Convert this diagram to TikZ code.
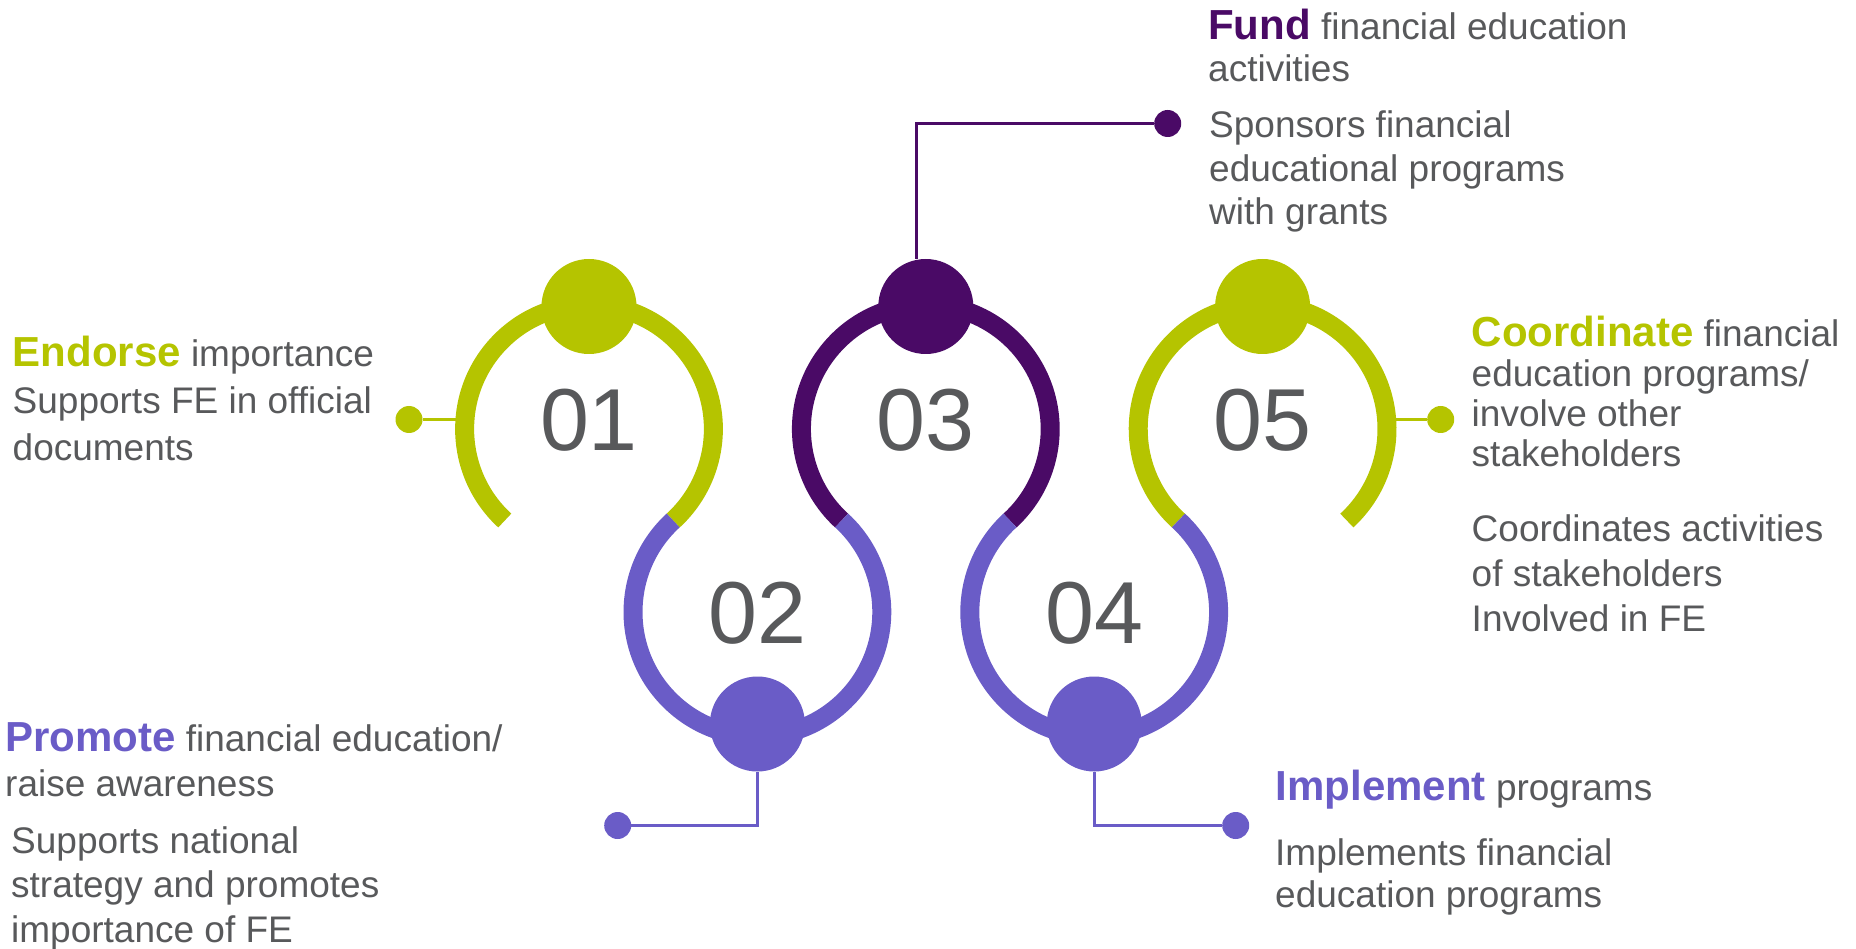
\documentclass[tikz,border=0pt]{standalone}
\usepackage{fontspec}
\setmainfont{Liberation Sans}
\definecolor{fegreen}{HTML}{B5C400}
\definecolor{felilac}{HTML}{6A5CC7}
\definecolor{feplum}{HTML}{4A0A66}
\definecolor{fegray}{HTML}{58595B}
\newcommand\headword[2]{{\fontsize{42}{44}\selectfont\bfseries\color{#1}#2}}
\begin{document}
\begin{tikzpicture}[x=1pt, y=1pt,
    ring/.style={line width=19pt},
    bigdot/.style={circle, inner sep=0pt, minimum size=95pt},
    smalldot/.style={circle, inner sep=0pt, minimum size=27pt},
    link/.style={line width=2.8pt},
    num/.style={text=fegray, font=\fontsize{88}{88}\selectfont, inner sep=0pt, anchor=base},
    blurb/.style={text=fegray, inner sep=0pt, anchor=base west, align=left}]
    \useasboundingbox (0,0) rectangle (1856,-949);
    % Los anillos se tocan de dos en dos y forman una cadena ondulada.
    \foreach \i/\col in {1/fegreen, 3/feplum, 5/fegreen}
        \draw[ring, \col] ({589+168.4*(\i-1)},-429) ++(227.38:124.4pt)
            arc[start angle=227.38, end angle=-47.38, radius=124.4pt];
    \foreach \i in {2,4}
        \draw[ring, felilac] ({589+168.4*(\i-1)},-612) ++(132.62:124.4pt)
            arc[start angle=132.62, end angle=407.38, radius=124.4pt];
    \foreach \i/\col in {1/fegreen, 3/feplum, 5/fegreen} {
        \node[bigdot, fill=\col] (d\i) at ({589+168.4*(\i-1)},-306.5) {};
        \node[num] (n\i) at ({589+168.4*(\i-1)},-450) {0\i};
    }
    \foreach \i in {2,4} {
        \node[bigdot, fill=felilac] (d\i) at ({589+168.4*(\i-1)},-724) {};
        \node[num] (n\i) at ({589+168.4*(\i-1)},-643) {0\i};
    }
    \node[smalldot, fill=fegreen] (s1) at (409,-419.5) {};
    \node[smalldot, fill=felilac] (s2) at (617.7,-825.5) {};
    \node[smalldot, fill=feplum] (s3) at (1167.7,-123.5) {};
    \node[smalldot, fill=felilac] (s4) at (1235.7,-825.5) {};
    \node[smalldot, fill=fegreen] (s5) at (1440.7,-419.5) {};
    \coordinate (r1) at (457,-419.5);
    \coordinate (r5) at (1394,-419.5);
    \draw[link, fegreen] (s1) -- (r1);
    \draw[link, felilac] (d2) |- (s2);
    \draw[link, feplum] ([xshift=-9pt]d3.north) |- (s3);
    \draw[link, felilac] (d4) |- (s4);
    \draw[link, fegreen] (r5) -- (s5);
    % El ancla base de un texto de varias lineas es la de su ultima linea.
    \node[blurb, font=\fontsize{37}{47}\selectfont] (t1) at (12.5,-460.5)
        {\headword{fegreen}{Endorse} importance\\Supports FE in official\\documents};
    \node[blurb, font=\fontsize{37}{45}\selectfont] (t2) at (5,-796.5)
        {\headword{felilac}{Promote} financial education/\\raise awareness};
    \node[blurb, font=\fontsize{37}{44.5}\selectfont] (u2) at (11,-942)
        {Supports national\\strategy and promotes\\importance of FE};
    \node[blurb, font=\fontsize{37}{42}\selectfont] (t3) at (1208,-82)
        {\headword{feplum}{Fund} financial education\\activities};
    \node[blurb, font=\fontsize{37}{43.5}\selectfont] (u3) at (1209,-225)
        {Sponsors financial\\educational programs\\with grants};
    \node[blurb, font=\fontsize{37}{42}\selectfont] (t4) at (1275.5,-800)
        {\headword{felilac}{Implement} programs};
    \node[blurb, font=\fontsize{37}{42}\selectfont] (u4) at (1275,-907)
        {Implements financial\\education programs};
    \node[blurb, font=\fontsize{37}{40}\selectfont] (t5) at (1471.5,-466.7)
        {\headword{fegreen}{Coordinate} financial\\education programs/\\involve other\\stakeholders};
    \node[blurb, font=\fontsize{37}{45}\selectfont] (u5) at (1471.5,-631)
        {Coordinates activities\\of stakeholders\\Involved in FE};
\end{tikzpicture}
\end{document}
